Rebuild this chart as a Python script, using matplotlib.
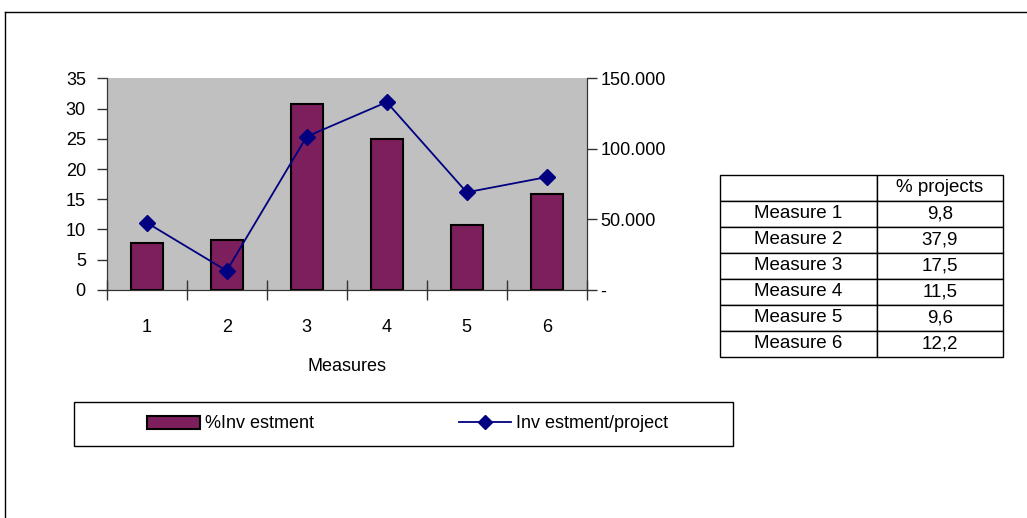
import matplotlib
matplotlib.use('Agg')
from matplotlib import pyplot as plt
from matplotlib.lines import Line2D
from matplotlib.patches import Rectangle

plt.rcParams['font.family'] = ['Liberation Sans', 'DejaVu Sans']
plt.rcParams['font.size'] = 13

# share of investment per measure (left axis) and investment per project (right axis)
measures = [1, 2, 3, 4, 5, 6]
pct_investment = [7.7, 8.2, 30.8, 25.0, 10.8, 15.9]
invest_per_project = [47700, 13600, 108700, 133100, 69200, 80000]

# table beside the chart
table_rows = ['Measure 1', 'Measure 2', 'Measure 3', 'Measure 4', 'Measure 5', 'Measure 6']
pct_projects = ['9,8', '37,9', '17,5', '11,5', '9,6', '12,2']

right_ticks = [0, 50000, 100000, 150000]
right_labels = ['-', '50.000', '100.000', '150.000']

bar_color = '#7e1f5d'
line_color = '#000080'

W, H = 1027, 518
fig = plt.figure(figsize=(W / 100, H / 100), dpi=100)

ax = fig.add_axes([0.1039, 0.4402, 0.4674, 0.4087])
ax.set_facecolor('#c0c0c0')
ax.bar(measures, pct_investment, width=0.4, color=bar_color,
       edgecolor='black', linewidth=1.5, zorder=2)
ax.set_xlim(0.5, 6.5)
ax.set_ylim(0, 35)
ax.set_yticks(range(0, 36, 5))
ax.set_xticks([x + 0.5 for x in range(0, 7)])
ax.set_xticklabels([])
ax.set_xticks(measures, minor=True)
ax.set_xticklabels([str(m) for m in measures], minor=True)
ax.tick_params(axis='x', which='major', direction='inout', length=14, width=1, color='#333333')
ax.tick_params(axis='x', which='minor', length=0, pad=21)
ax.tick_params(axis='y', direction='out', length=7, width=1, pad=8, color='#333333')
ax.spines['top'].set_visible(False)
for s in ['left', 'bottom', 'right']:
    ax.spines[s].set_color('#333333')
ax.set_xlabel('Measures', labelpad=16)

ax2 = ax.twinx()
ax2.plot(measures, invest_per_project, color=line_color, linewidth=1.3,
         marker='D', markersize=8, markerfacecolor=line_color, markeredgecolor=line_color)
ax2.set_ylim(0, 150000)
ax2.set_yticks(right_ticks)
ax2.set_yticklabels(right_labels)
ax2.tick_params(axis='y', direction='out', length=7, width=1, pad=3, color='#333333')
ax2.spines['top'].set_visible(False)
for s in ['left', 'bottom', 'right']:
    ax2.spines[s].set_color('#333333')

# legend box under the chart
fig.add_artist(Rectangle((74 / W, 72 / H), 659 / W, 44 / H, transform=fig.transFigure,
                         facecolor='white', edgecolor='black', linewidth=1))
bar_handle = Rectangle((0, 0), 1, 1, facecolor=bar_color, edgecolor='black', linewidth=1.5)
line_handle = Line2D([], [], color=line_color, linewidth=1.3, marker='D',
                     markersize=7, markerfacecolor=line_color)
leg = fig.legend([bar_handle, line_handle], ['%Inv estment', 'Inv estment/project'],
                 loc='center', bbox_to_anchor=(408 / W, 94 / H),
                 ncol=2, frameon=False, columnspacing=8.0,
                 handlelength=2.9, handletextpad=0.3, borderaxespad=0)

# table of project shares
tax = fig.add_axes([720 / W, 161 / H, 283 / W, 182 / H])
tax.axis('off')
cells = [['', '% projects']] + [[r, v] for r, v in zip(table_rows, pct_projects)]
tbl = tax.table(cellText=cells, cellLoc='center', bbox=[0, 0, 1, 1],
                colWidths=[157 / 283, 126 / 283])
tbl.auto_set_font_size(False)
for (r, c), cell in tbl.get_celld().items():
    cell.set_fontsize(13.5)
    cell.set_linewidth(1)
    cell.set_edgecolor('black')

# outer frame
fig.add_artist(Line2D([4.5 / W, 1], [1 - 12 / H, 1 - 12 / H], color='black', linewidth=1))
fig.add_artist(Line2D([4.5 / W, 4.5 / W], [0, 1 - 12 / H], color='black', linewidth=1))

fig.savefig('out.png', dpi=100)
